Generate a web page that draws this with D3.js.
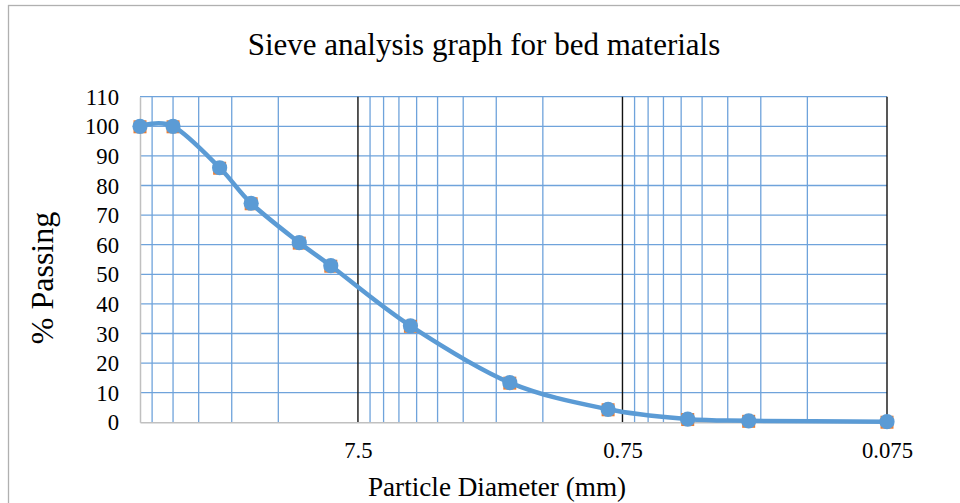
<!DOCTYPE html>
<html>
<head>
<meta charset="utf-8">
<script src="https://cdn.jsdelivr.net/npm/d3@7"></script>
<style>
  html, body { margin: 0; padding: 0; background: #fff; }
  svg { display: block; font-family: "Liberation Serif", "Times New Roman", serif; }
</style>
</head>
<body>
<svg id="chart" width="960" height="503"></svg>
<script>
//------------------------------------------------------------------------------

const dLog = console.debug;

/** sieve opening, mm */
const diameters = [50, 37.5, 25, 19, 12.5, 9.5, 4.75, 2, 0.85, 0.425, 0.25, 0.075];
/** % passing */
const passing = [100, 100, 86, 74, 60.7, 52.9, 32.6, 13.4, 4.4, 1.1, 0.5, 0.2];

const xTicks = [7.5, 0.75, 0.075];
const yTicks = [0, 10, 20, 30, 40, 50, 60, 70, 80, 90, 100, 110];

const titleText = 'Sieve analysis graph for bed materials',
      xTitleText = 'Particle Diameter (mm)',
      yTitleText = '% Passing';

//------------------------------------------------------------------------------

const
svg = d3.select('#chart'),
plot = {left : 140, right : 887, top : 96.7, bottom : 422.3},
/** log axis, reversed : coarse on the left */
x = d3.scaleLog().domain([50, 0.075]).range([plot.left, plot.right]),
y = d3.scaleLinear().domain([0, 110]).range([plot.bottom, plot.top]),
blue = '#5B9BD5',
gridBlue = '#6fa3db',
orange = '#ED7D31',
axisGrey = '#c0c0c0';

/** Excel-style log gridlines : major at 0.075 * 10^n, minor at k * major. */
function logGridValues() {
  const
  [lo, hi] = [0.075, 50],
  major = [], minor = [];
  for (let base = lo; base <= hi; base *= 10) {
    major.push(base);
    for (let k = 2; k <= 9; k++) {
      const v = base * k;
      if (v <= hi * 1.0001) {
        minor.push(v);
      }
    }
  }
  return {major, minor};
}

// chart area frame, runs off the right and bottom of the picture
svg.append('rect')
  .attr('x', 8.5).attr('y', 5.5)
  .attr('width', 1000).attr('height', 600)
  .attr('fill', 'none')
  .attr('stroke', '#b0b0b0')
  .attr('stroke-width', 1.3);

svg.append('text')
  .attr('x', 484).attr('y', 55)
  .attr('text-anchor', 'middle')
  .attr('font-size', 31)
  .text(titleText);

//------------------------------------------------------------------------------
// gridlines

const
grid = svg.append('g').attr('class', 'grid'),
gridValues = logGridValues();
dLog('gridValues', gridValues);

grid.selectAll('line.h')
  .data(yTicks.filter(d => d > 0))
  .enter().append('line')
  .attr('class', 'h')
  .attr('x1', plot.left).attr('x2', plot.right)
  .attr('y1', d => y(d)).attr('y2', d => y(d))
  .attr('stroke', gridBlue).attr('stroke-width', 1.3);

grid.selectAll('line.minor')
  .data(gridValues.minor)
  .enter().append('line')
  .attr('class', 'minor')
  .attr('x1', d => x(d)).attr('x2', d => x(d))
  .attr('y1', plot.top).attr('y2', plot.bottom)
  .attr('stroke', gridBlue).attr('stroke-width', 1.3);

grid.selectAll('line.major')
  .data(gridValues.major)
  .enter().append('line')
  .attr('class', 'major')
  .attr('x1', d => x(d)).attr('x2', d => x(d))
  .attr('y1', plot.top).attr('y2', plot.bottom)
  .attr('stroke', '#111').attr('stroke-width', 1.4);

//------------------------------------------------------------------------------
// axes : no tick marks, grey lines on the left and bottom

const
xAxis = d3.axisBottom(x).tickValues(xTicks).tickSize(0).tickPadding(0)
  .tickFormat(d => d3.format('')(d)),
yAxis = d3.axisLeft(y).tickValues(yTicks).tickSize(0).tickPadding(0);

const gx = svg.append('g')
  .attr('transform', 'translate(0,' + plot.bottom + ')')
  .call(xAxis);
gx.select('.domain').attr('stroke', axisGrey).attr('stroke-width', 1.5);
gx.selectAll('.tick text')
  .attr('y', 36).attr('dy', 0)
  .attr('font-size', 22.7).attr('font-family', 'Liberation Serif')
  .attr('fill', '#000');

const gy = svg.append('g')
  .attr('transform', 'translate(' + plot.left + ',0)')
  .call(yAxis);
gy.select('.domain').attr('stroke', axisGrey).attr('stroke-width', 1.5);
gy.selectAll('.tick text')
  .attr('x', -21).attr('dy', '0.33em')
  .attr('font-size', 22.7).attr('font-family', 'Liberation Serif')
  .attr('fill', '#000');

svg.append('text')
  .attr('x', 497).attr('y', 496)
  .attr('text-anchor', 'middle')
  .attr('font-size', 27.2)
  .text(xTitleText);

svg.append('text')
  .attr('transform', 'translate(53,278) rotate(-90)')
  .attr('text-anchor', 'middle')
  .attr('font-size', 32)
  .text(yTitleText);

//------------------------------------------------------------------------------
// series : orange squares under the smoothed blue line + circles

const
points = diameters.map((d, i) => ({d, p : passing[i]})),
line = d3.line()
  .x(pt => x(pt.d))
  .y(pt => y(pt.p))
  .curve(d3.curveCatmullRom.alpha(0));

const series = svg.append('g').attr('class', 'series');

series.selectAll('rect')
  .data(points)
  .enter().append('rect')
  .attr('x', pt => x(pt.d) - 6.5)
  .attr('y', pt => y(pt.p) - 6)
  .attr('width', 13).attr('height', 13)
  .attr('fill', orange);

series.append('path')
  .attr('d', line(points))
  .attr('fill', 'none')
  .attr('stroke', blue)
  .attr('stroke-width', 4.5)
  .attr('stroke-linecap', 'round');

series.selectAll('circle')
  .data(points)
  .enter().append('circle')
  .attr('cx', pt => x(pt.d))
  .attr('cy', pt => y(pt.p))
  .attr('r', 7.6)
  .attr('fill', blue);
</script>
</body>
</html>
